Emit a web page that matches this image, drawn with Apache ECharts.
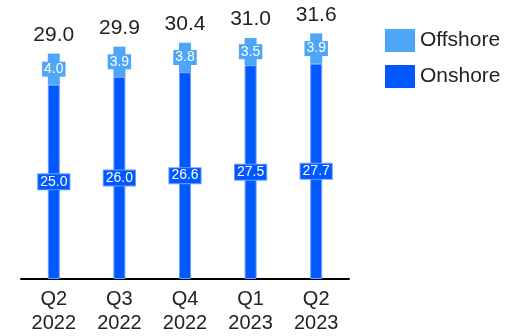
<!DOCTYPE html>
<html>
<head>
<meta charset="utf-8">
<script src="https://cdn.jsdelivr.net/npm/echarts@6/dist/echarts.min.js"></script>
<style>
  html, body { margin: 0; padding: 0; background: #fff; }
  #chartBox { width: 505px; height: 336px; }
</style>
</head>
<body>
<div id="chartBox"></div>
<script>
// quarters, values in the reference's units
const categories = ['Q2\n2022', 'Q3\n2022', 'Q4\n2022', 'Q1\n2023', 'Q2\n2023']
const onshoreData = [25.0, 26.0, 26.6, 27.5, 27.7]
const offshoreData = [4.0, 3.9, 3.8, 3.5, 3.9]
const totalData = [29.0, 29.9, 30.4, 31.0, 31.6]

const FONT = 'Liberation Sans, Arial, sans-serif'
const OFF_COLOR = '#4da6f7'
const ON_COLOR = '#0058ff'

const chart = echarts.init(document.getElementById('chartBox'))
chart.setOption({
  animation: false,
  textStyle: { fontFamily: FONT },
  legend: {
    data: ['Offshore', 'Onshore'],
    orient: 'vertical',
    left: 380,
    top: 24,
    icon: 'rect',
    itemWidth: 30,
    itemHeight: 23,
    itemGap: 13,
    itemStyle: { borderWidth: 0 },
    textStyle: { fontSize: 21, color: '#222', fontFamily: FONT }
  },
  grid: { left: 21, right: 156, top: 7, bottom: 57 },
  xAxis: {
    type: 'category',
    data: categories,
    axisTick: { show: false },
    axisLine: { show: true, lineStyle: { color: '#000', width: 2 } },
    axisLabel: { fontSize: 20, color: '#222', lineHeight: 24, margin: 8, fontFamily: FONT }
  },
  yAxis: {
    type: 'value',
    min: 0,
    max: 35,
    show: false
  },
  series: [
    {
      name: 'Onshore',
      type: 'bar',
      stack: 'total',
      barWidth: 12,
      data: onshoreData,
      itemStyle: { color: ON_COLOR, borderColor: '#6f9dff', borderWidth: 1 },
      label: {
        show: true,
        position: 'inside',
        formatter: p => p.value.toFixed(1),
        color: '#fff',
        fontSize: 14,
        backgroundColor: ON_COLOR,
        borderColor: '#6f9dff',
        borderWidth: 1,
        padding: [1, 2, 0, 2],
        fontFamily: FONT
      }
    },
    {
      name: 'Offshore',
      type: 'bar',
      stack: 'total',
      barWidth: 12,
      data: offshoreData,
      itemStyle: { color: OFF_COLOR },
      label: {
        show: true,
        position: 'inside',
        formatter: p => p.value.toFixed(1),
        color: '#fff',
        fontSize: 14,
        backgroundColor: OFF_COLOR,
        padding: [1, 2, 0, 2],
        fontFamily: FONT
      }
    },
    {
      name: 'Total',
      type: 'bar',
      stack: 'total',
      barWidth: 12,
      data: totalData.map(() => 0),
      itemStyle: { color: 'transparent' },
      label: {
        show: true,
        position: 'top',
        distance: 8,
        formatter: p => totalData[p.dataIndex].toFixed(1),
        color: '#222',
        fontSize: 21,
        fontFamily: FONT
      }
    }
  ]
})
</script>
</body>
</html>
